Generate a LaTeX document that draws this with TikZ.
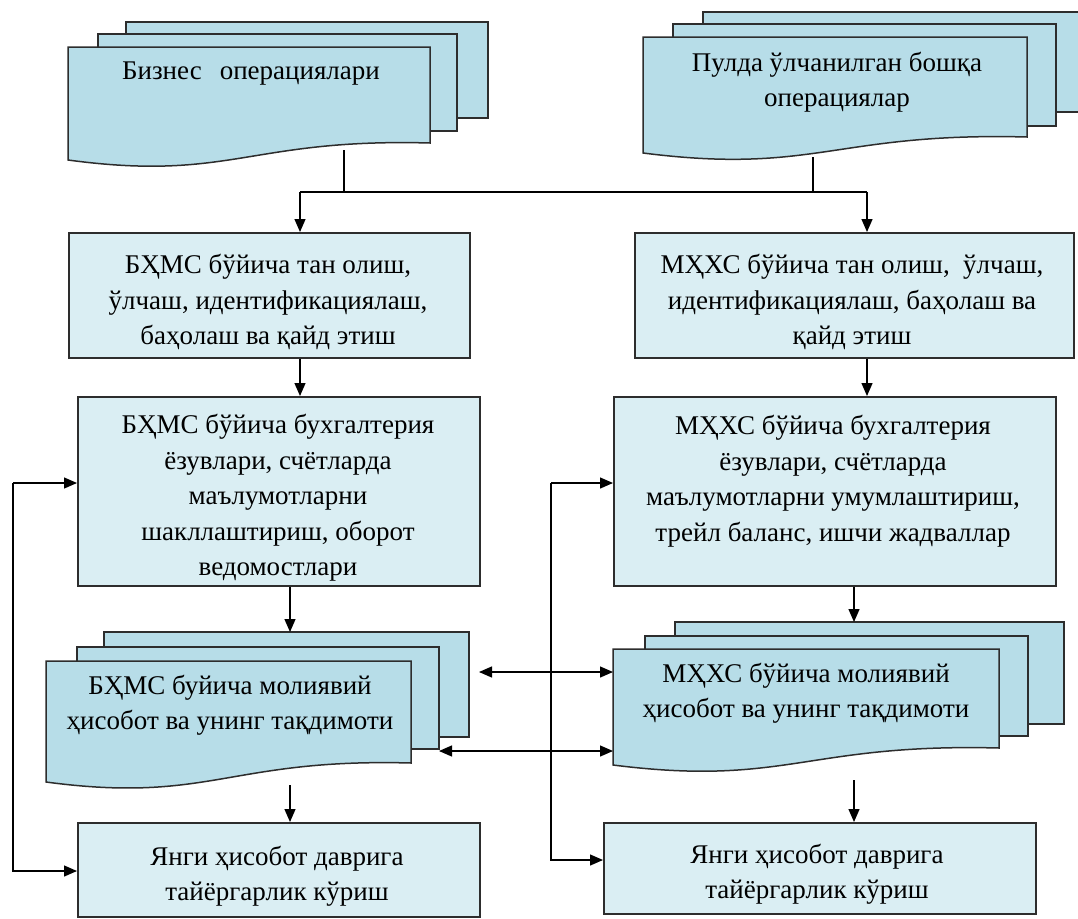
\documentclass[tikz,border=0pt]{standalone}
\usepackage{fontspec}
\setmainfont{Liberation Serif}
\usetikzlibrary{arrows.meta}
\definecolor{boxfill}{RGB}{218,238,243}
\definecolor{docfill}{RGB}{183,221,232}
\definecolor{edgecol}{RGB}{45,45,45}
\tikzset{
  boxshape/.style={draw=edgecol, line width=1.5pt, fill=boxfill, anchor=north west, inner sep=0pt},
  page/.style={draw=edgecol, line width=1.5pt, fill=docfill},
  txt/.style={align=center, font=\fontsize{27}{35.5}\selectfont, inner sep=0pt, text=black},
  conn/.style={draw=black, line width=1.3pt},
  arr/.style={conn, -{Triangle[length=13pt,width=11pt]}},
  darr/.style={conn, {Triangle[length=13pt,width=11pt]}-{Triangle[length=13pt,width=11pt]}},
}
% x1, x2, top, right-bottom, left-bottom
\newcommand{\wavedoc}[5]{%
  \draw[page] (#1,#3) -- (#2,#3) -- (#2,#4)
    .. controls ({#1+0.5*(#2-#1)},{#4-5}) and ({#1+0.45*(#2-#1)},{#5+22}) .. (#1,#5) -- cycle;}
\newcommand{\sheet}[4]{\draw[page] (#1,#2) rectangle (#3,#4);}
\begin{document}
\begin{tikzpicture}[x=1pt,y=-1pt]
\useasboundingbox (0,0) rectangle (1078,918);

% ---- top-left multi-document
\sheet{126}{22}{488}{118}
\sheet{98}{34}{457}{131}
\wavedoc{68}{430}{47}{143}{160}
\node[txt] (td1) at (251,74) {Бизнес\hspace{18pt}операциялари};

% ---- top-right multi-document
\sheet{703}{12}{1095}{112}
\sheet{673}{24}{1056}{126}
\wavedoc{643}{1027}{37}{137}{153}
\node[txt] (td2) at (837,82) {Пулда ўлчанилган бошқа\\операциялар};

% ---- boxes row 1
\node[boxshape, minimum width=401pt, minimum height=125pt] (b1l) at (68,232) {};
\node[txt] (t1l) at (268,302) {БҲМС бўйича тан олиш,\\ўлчаш, идентификациялаш,\\баҳолаш ва қайд этиш};
\node[boxshape, minimum width=439pt, minimum height=125pt] (b1r) at (634,232) {};
\node[txt] (t1r) at (852,302) {МҲХС бўйича тан олиш,~ ўлчаш,\\идентификациялаш, баҳолаш ва\\қайд этиш};

% ---- boxes row 2
\node[boxshape, minimum width=402pt, minimum height=189pt] (b2l) at (77,396) {};
\node[txt] (t2l) at (278,498) {БҲМС бўйича бухгалтерия\\ёзувлари, счётларда\\маълумотларни\\шакллаштириш, оборот\\ведомостлари};
\node[boxshape, minimum width=442pt, minimum height=189pt] (b2r) at (613,396) {};
\node[txt] (t2r) at (833,481) {МҲХС бўйича бухгалтерия\\ёзувлари, счётларда\\маълумотларни умумлаштириш,\\трейл баланс, ишчи жадваллар};

% ---- lower-left multi-document
\sheet{104}{632}{469}{737}
\sheet{77}{647}{439}{749}
\wavedoc{46}{411}{661}{763}{782}
\node[txt] (td3) at (230,705) {БҲМС буйича молиявий\\ҳисобот ва унинг тақдимоти};

% ---- lower-right multi-document
\sheet{675}{622}{1064}{724}
\sheet{645}{636}{1028}{736}
\wavedoc{613}{999}{649}{748}{765}
\node[txt] (td4) at (806,693) {МҲХС бўйича молиявий\\ҳисобот ва унинг тақдимоти};

% ---- boxes row 3
\node[boxshape, minimum width=402pt, minimum height=94pt] (b3l) at (77,822) {};
\node[txt] (t3l) at (277,876) {Янги ҳисобот даврига\\тайёргарлик кўриш};
\node[boxshape, minimum width=432pt, minimum height=91pt] (b3r) at (603,822) {};
\node[txt] (t3r) at (817,874) {Янги ҳисобот даврига\\тайёргарлик кўриш};

% ---- connector coordinates
\coordinate (d1b) at (344,150);
\coordinate (d2b) at (813,157);
\coordinate (j1) at (300,192);
\coordinate (j2) at (867,192);
\coordinate (d3t) at (290,632);
\coordinate (d4t) at (854,622);
\coordinate (d3b) at (290,785);
\coordinate (d4b) at (854,780);
\coordinate (d3r1) at (479,672);
\coordinate (d4l1) at (613,672);
\coordinate (d3r2) at (439,751);
\coordinate (d4l2) at (613,751);
\coordinate (fl) at (13,483);
\coordinate (fl2) at (13,871);
\coordinate (fr) at (551,483);
\coordinate (fr2) at (551,860);

% ---- connectors
\draw[conn] (d1b) -- (d1b |- j1);
\draw[conn] (d2b) -- (d2b |- j1);
\draw[conn] (j1) -- (j2);
\draw[arr] (j1) -- (j1 |- b1l.north);
\draw[arr] (j2) -- (j2 |- b1r.north);
\draw[arr] (j1 |- b1l.south) -- (j1 |- b2l.north);
\draw[arr] (j2 |- b1r.south) -- (j2 |- b2r.north);
\draw[arr] (d3t |- b2l.south) -- (d3t);
\draw[arr] (d4t |- b2r.south) -- (d4t);
\draw[arr] (d3b) -- (d3b |- b3l.north);
\draw[arr] (d4b) -- (d4b |- b3r.north);
\draw[darr] (d3r1) -- (d4l1);
\draw[darr] (d3r2) -- (d4l2);
\draw[arr] (fl) -- (fl -| b2l.west);
\draw[arr] (fl) -- (fl2) -- (fl2 -| b3l.west);
\draw[arr] (fr) -- (fr -| b2r.west);
\draw[arr] (fr) -- (fr2) -- (fr2 -| b3r.west);
\end{tikzpicture}
\end{document}
